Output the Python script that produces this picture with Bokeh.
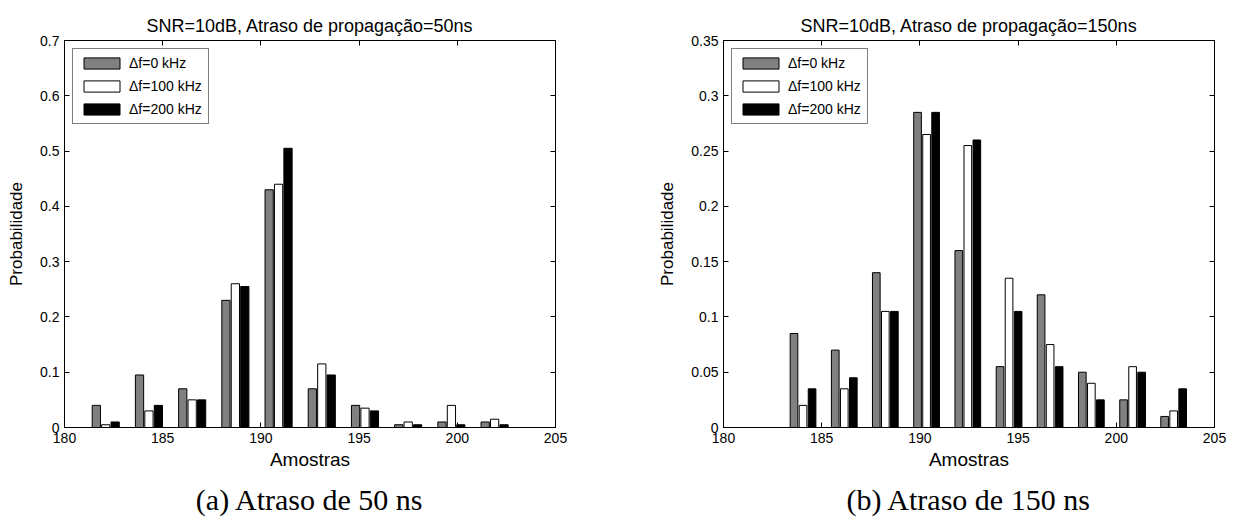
from bokeh.plotting import figure
from bokeh.layouts import row
from bokeh.models import (LinearAxis, FixedTicker, Title, Legend, LegendItem,
                          Range1d, ColumnDataSource)
from bokeh.transform import dodge
from bokeh.embed import file_html
from bokeh.resources import INLINE

# ---------------- data ----------------
series_names = ["\u0394f=0 kHz", "\u0394f=100 kHz", "\u0394f=200 kHz"]
bar_colors = ["#808080", "#ffffff", "#000000"]

x_ticks = [180, 185, 190, 195, 200, 205]

# (a) propagation delay 50 ns
bins_50 = [182.1, 184.3, 186.5, 188.7, 190.9, 193.1, 195.3, 197.5, 199.7, 201.9]
p50_df0 = [0.04, 0.095, 0.07, 0.23, 0.43, 0.07, 0.04, 0.005, 0.01, 0.01]
p50_df100 = [0.005, 0.03, 0.05, 0.26, 0.44, 0.115, 0.035, 0.01, 0.04, 0.015]
p50_df200 = [0.01, 0.04, 0.05, 0.255, 0.505, 0.095, 0.03, 0.005, 0.005, 0.005]
y_ticks_50 = [0, 0.1, 0.2, 0.3, 0.4, 0.5, 0.6, 0.7]
y_labels_50 = ["0", "0.1", "0.2", "0.3", "0.4", "0.5", "0.6", "0.7"]

# (b) propagation delay 150 ns
bins_150 = [184.05, 186.15, 188.24, 190.34, 192.44, 194.54, 196.63, 198.73, 200.83, 202.92]
p150_df0 = [0.085, 0.07, 0.14, 0.285, 0.16, 0.055, 0.12, 0.05, 0.025, 0.01]
p150_df100 = [0.02, 0.035, 0.105, 0.265, 0.255, 0.135, 0.075, 0.04, 0.055, 0.015]
p150_df200 = [0.035, 0.045, 0.105, 0.285, 0.26, 0.105, 0.055, 0.025, 0.05, 0.035]
y_ticks_150 = [0, 0.05, 0.1, 0.15, 0.2, 0.25, 0.3, 0.35]
y_labels_150 = ["0", "0.05", "0.1", "0.15", "0.2", "0.25", "0.3", "0.35"]

SANS = "Liberation Sans"
SERIF = "Liberation Serif"


def style_axis(ax, ticks, labels=None, show_labels=True):
    ax.ticker = FixedTicker(ticks=ticks)
    if labels is not None:
        ax.major_label_overrides = {t: l for t, l in zip(ticks, labels)}
    ax.major_tick_in = 5
    ax.major_tick_out = 0
    ax.minor_tick_line_color = None
    ax.axis_line_color = "black"
    ax.major_tick_line_color = "black"
    ax.major_label_text_font = SANS
    ax.major_label_text_font_size = "14px" if show_labels else "0px"
    ax.major_label_text_color = "black"
    ax.major_label_standoff = 5 if show_labels else 0
    ax.axis_label_text_font = SANS
    ax.axis_label_text_font_style = "normal"
    ax.axis_label_text_color = "black"


def make_panel(title, caption, bins, series, yticks, ylabels, ymax,
               width, border_left, border_right, bar_w, off, cap_offset):
    p = figure(width=width, height=525,
               x_range=Range1d(180, 205), y_range=Range1d(0, ymax),
               output_backend="svg", toolbar_location=None,
               min_border_left=border_left, min_border_right=border_right,
               min_border_top=40, min_border_bottom=98)
    p.grid.visible = False
    p.outline_line_color = "black"
    p.background_fill_color = "white"
    p.border_fill_color = "white"

    p.title.text = title
    p.title.align = "center"
    p.title.text_font = SANS
    p.title.text_font_size = "18px"
    p.title.text_font_style = "normal"
    p.title.text_color = "black"
    p.title.standoff = 9

    style_axis(p.xaxis[0], x_ticks)
    style_axis(p.yaxis[0], yticks, ylabels)
    p.xaxis[0].axis_label = "Amostras"
    p.xaxis[0].axis_label_text_font_size = "19px"
    p.xaxis[0].axis_label_standoff = 3
    p.yaxis[0].axis_label = "Probabilidade"
    p.yaxis[0].axis_label_text_font_size = "17px"
    p.yaxis[0].axis_label_standoff = 11

    # box ticks on the top and right sides (inward, no labels)
    top_ax = LinearAxis()
    style_axis(top_ax, x_ticks, show_labels=False)
    p.add_layout(top_ax, "above")
    right_ax = LinearAxis()
    style_axis(right_ax, yticks, show_labels=False)
    p.add_layout(right_ax, "right")

    src = ColumnDataSource(dict(x=bins, s0=series[0], s1=series[1], s2=series[2]))
    items = []
    for i, (key, color, name) in enumerate(zip(["s0", "s1", "s2"], bar_colors, series_names)):
        r = p.vbar(x=dodge("x", (i - 1) * off, range=p.x_range), top=key, bottom=0,
                   width=bar_w, source=src, fill_color=color, line_color="black",
                   line_width=1, level="overlay")
        items.append(LegendItem(label=name, renderers=[r]))

    legend = Legend(items=items, location="top_left", margin=8, padding=6,
                    spacing=7, glyph_width=45, glyph_height=14, label_height=14,
                    label_standoff=5, label_text_font=SANS,
                    label_text_font_size="14px", label_text_color="black",
                    border_line_color="black", border_line_width=1,
                    background_fill_alpha=1.0)
    p.add_layout(legend)

    cap = Title(text=caption, align="center", text_font=SERIF,
                text_font_size="30px", text_font_style="normal",
                text_color="black", offset=cap_offset, standoff=17)
    p.add_layout(cap, "below")
    return p


p1 = make_panel("SNR=10dB, Atraso de propaga\u00e7\u00e3o=50ns", "(a) Atraso de 50 ns",
                bins_50, [p50_df0, p50_df100, p50_df200], y_ticks_50, y_labels_50, 0.7,
                640, 64, 85, 0.42, 0.48, -10)
p2 = make_panel("SNR=10dB, Atraso de propaga\u00e7\u00e3o=150ns", "(b) Atraso de 150 ns",
                bins_150, [p150_df0, p150_df100, p150_df200], y_ticks_150, y_labels_150, 0.35,
                594, 83, 20, 0.39, 0.46, -10)

layout = row(p1, p2)
open("out.html", "w").write(file_html(layout, INLINE))
